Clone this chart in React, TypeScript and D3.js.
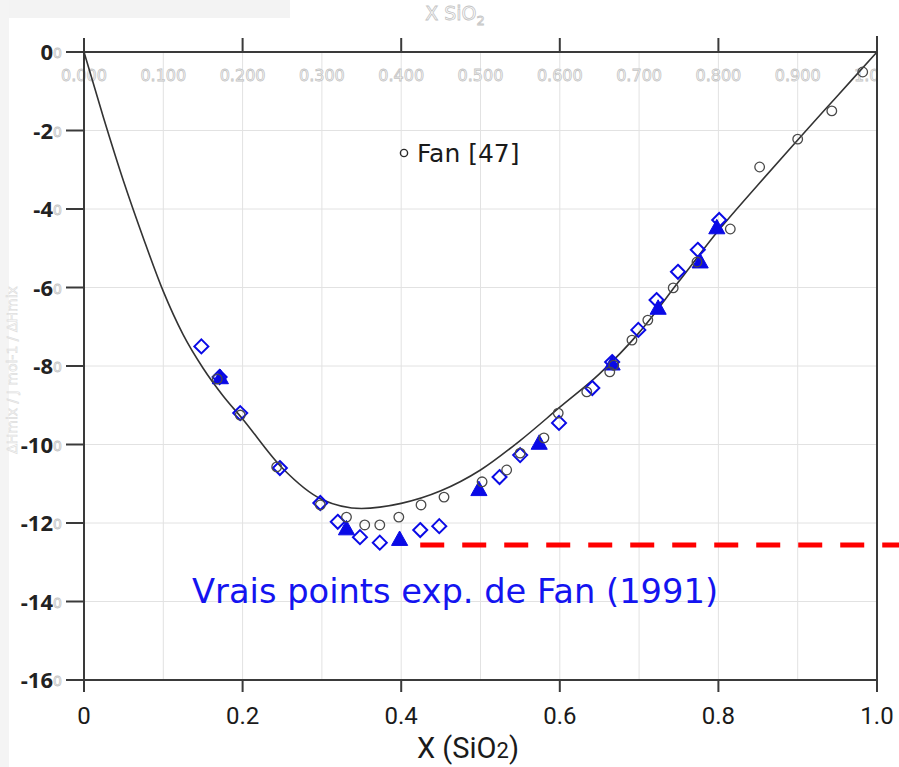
import React from "react";
import * as d3 from "d3";

// Mixing enthalpy of the SiO2 system versus silica mole fraction

// Model curve
const MODEL_X = [0, 0.025, 0.05, 0.075, 0.1, 0.125, 0.15, 0.175, 0.2, 0.25, 0.3, 0.35, 0.4, 0.45, 0.5, 0.55, 0.6, 0.65, 0.7, 0.75, 0.8, 0.85, 0.9, 0.95, 1.0];
const MODEL_Y = [0, -1.7, -3.3, -4.75, -6.1, -7.2, -8.05, -8.75, -9.35, -10.6, -11.4, -11.63, -11.5, -11.18, -10.65, -9.9, -9.05, -8.2, -7.15, -5.85, -4.55, -3.38, -2.24, -1.12, 0];

// Fan [47] (open circles)
const FAN_X = [0.168, 0.197, 0.243, 0.298, 0.331, 0.354, 0.373, 0.397, 0.425, 0.454, 0.502, 0.533, 0.55, 0.58, 0.598, 0.634, 0.663, 0.668, 0.691, 0.711, 0.743, 0.773, 0.815, 0.852, 0.9, 0.943, 0.982];
const FAN_Y = [-8.33, -9.25, -10.57, -11.54, -11.85, -12.05, -12.05, -11.85, -11.54, -11.34, -10.95, -10.65, -10.22, -9.83, -9.2, -8.66, -8.15, -7.98, -7.34, -6.83, -6.01, -5.35, -4.51, -2.93, -2.22, -1.5, -0.51];

// Fan (1991) experimental points (open diamonds)
const EXP_X = [0.148, 0.171, 0.197, 0.247, 0.298, 0.32, 0.348, 0.373, 0.424, 0.448, 0.524, 0.55, 0.599, 0.641, 0.666, 0.699, 0.722, 0.749, 0.774, 0.801];
const EXP_Y = [-7.5, -8.28, -9.2, -10.6, -11.49, -11.97, -12.36, -12.5, -12.18, -12.08, -10.83, -10.27, -9.45, -8.56, -7.9, -7.08, -6.32, -5.6, -5.04, -4.28];

// Filled triangles
const TRI_X = [0.172, 0.331, 0.398, 0.498, 0.574, 0.666, 0.724, 0.777, 0.798];
const TRI_Y = [-8.3, -12.15, -12.42, -11.15, -9.97, -7.95, -6.53, -5.35, -4.48];

// Reference level of the lowest experimental point
const MIN_LEVEL = -12.56;
const MIN_LEVEL_FROM = 0.424;

const X_TICKS = [0, 0.2, 0.4, 0.6, 0.8, 1.0];
const X_TICK_LABELS = ["0", "0.2", "0.4", "0.6", "0.8", "1.0"];
const X_GRID = [0.1, 0.2, 0.3, 0.4, 0.5, 0.6, 0.7, 0.8, 0.9];
const TOP_TICKS = [0, 0.2, 0.4, 0.6, 0.8];
const TOP_LABELS = ["0.000", "0.100", "0.200", "0.300", "0.400", "0.500", "0.600", "0.700", "0.800", "0.900", "1.000"];
const Y_TICKS = [0, -2, -4, -6, -8, -10, -12, -14, -16];
const Y_TICK_LABELS = ["0", "-2", "-4", "-6", "-8", "-10", "-12", "-14", "-16"];

const W = 899;
const H = 767;

export default function App() {
  const x = d3.scaleLinear().domain([0, 1]).range([84, 877]);
  const y = d3.scaleLinear().domain([0, -16]).range([52, 680]);

  const model = MODEL_X.map((v, i) => [v, MODEL_Y[i]] as [number, number]);
  const line = d3
    .line<[number, number]>()
    .x((d) => x(d[0]))
    .y((d) => y(d[1]))
    .curve(d3.curveMonotoneX);

  const diamond = (cx: number, cy: number, r: number) =>
    `M${cx},${cy - r}L${cx + r},${cy}L${cx},${cy + r}L${cx - r},${cy}Z`;
  const triangle = (cx: number, cy: number, r: number) =>
    `M${cx},${cy - r}L${cx + r * 0.95},${cy + r * 0.7}L${cx - r * 0.95},${cy + r * 0.7}Z`;

  const ghost = { fill: "#ffffff", stroke: "#c4c4c4", strokeWidth: 0.8 };
  const axisColor = "#3a3a3a";

  return (
    <svg
      width={W}
      height={H}
      viewBox={`0 0 ${W} ${H}`}
      style={{ position: "absolute", left: 0, top: 0, background: "#ffffff" }}
    >
      <defs>
        <clipPath id="topClip">
          <rect x={0} y={0} width={x(1)} height={H} />
        </clipPath>
      </defs>

      {/* faint page background bands */}
      <rect x={0} y={0} width={290} height={18} fill="#f3f3f3" />
      <rect x={0} y={0} width={9} height={H} fill="#f4f4f4" />

      {/* grid */}
      <g stroke="#e2e2e2" strokeWidth={1}>
        {X_GRID.map((t) => (
          <line key={`gx${t}`} x1={x(t)} x2={x(t)} y1={y(0)} y2={y(-16)} />
        ))}
        {Y_TICKS.slice(1, -1).map((t) => (
          <line key={`gy${t}`} x1={x(0)} x2={x(1)} y1={y(t)} y2={y(t)} />
        ))}
      </g>

      {/* faint secondary scale on top */}
      <g clipPath="url(#topClip)">
        {TOP_LABELS.map((s, i) => (
          <text
            key={s}
            x={x(i / 10)}
            y={81}
            textAnchor="middle"
            fontFamily="DejaVu Sans"
            fontSize={16}
            {...ghost}
          >
            {s}
          </text>
        ))}
      </g>
      <text x={455} y={20} textAnchor="middle" fontFamily="DejaVu Sans" fontSize={19} {...ghost}>
        X SiO
        <tspan fontSize={13} dy={5}>2</tspan>
      </text>
      <text
        transform="translate(17,370) rotate(-90)"
        textAnchor="middle"
        fontFamily="DejaVu Sans"
        fontSize={14}
        fill="none"
        stroke="#dedede"
        strokeWidth={0.7}
      >
        ΔHmix / J mol-1 / ΔHmix
      </text>

      {/* frame and axes */}
      <g stroke={axisColor} strokeWidth={2} fill="none">
        <line x1={66} x2={x(1)} y1={y(0)} y2={y(0)} />
        <line x1={66} x2={x(1)} y1={y(-16)} y2={y(-16)} />
        <line x1={x(0)} x2={x(0)} y1={38} y2={692} />
        <line x1={x(1)} x2={x(1)} y1={36} y2={692} />
        {TOP_TICKS.map((t) => (
          <line key={`tt${t}`} x1={x(t)} x2={x(t)} y1={38} y2={y(0)} />
        ))}
        {X_TICKS.map((t) => (
          <line key={`bt${t}`} x1={x(t)} x2={x(t)} y1={y(-16)} y2={692} />
        ))}
        {Y_TICKS.map((t) => (
          <line key={`yt${t}`} x1={66} x2={x(0)} y1={y(t)} y2={y(t)} />
        ))}
      </g>

      {/* y tick labels */}
      {Y_TICKS.map((t, i) => (
        <g key={`yl${t}`}>
          <text
            x={53}
            y={y(t) + 8}
            textAnchor="end"
            fontFamily="Open Sans"
            fontWeight={700}
            fontSize={22}
            fill="#222222"
          >
            {Y_TICK_LABELS[i]}
          </text>
          <text x={53} y={y(t) + 6} fontFamily="DejaVu Sans" fontSize={14} {...ghost}>
            0
          </text>
        </g>
      ))}

      {/* x tick labels */}
      {X_TICKS.map((t, i) => (
        <text
          key={`xl${t}`}
          x={x(t)}
          y={724}
          textAnchor="middle"
          fontFamily="Liberation Sans Narrow, Roboto"
          fontSize={24}
          fill="#1a1a1a"
        >
          {X_TICK_LABELS[i]}
        </text>
      ))}
      <text
        x={468}
        y={758}
        textAnchor="middle"
        fontFamily="Roboto"
        fontSize={29}
        fill="#1a1a1a"
      >
        X (SiO
        <tspan fontSize={22}>2</tspan>)
      </text>

      {/* model curve */}
      <path d={line(model) ?? ""} fill="none" stroke="#333333" strokeWidth={1.6} />

      {/* triangles */}
      {TRI_X.map((v, i) => (
        <path key={`tr${i}`} d={triangle(x(v), y(TRI_Y[i]), 8.5)} fill="#0a0ae6" stroke="#0a0ae6" strokeWidth={1} />
      ))}

      {/* diamonds */}
      {EXP_X.map((v, i) => (
        <path key={`dm${i}`} d={diamond(x(v), y(EXP_Y[i]), 7)} fill="none" stroke="#0a0ae6" strokeWidth={2} />
      ))}

      {/* circles */}
      {FAN_X.map((v, i) => (
        <circle key={`fc${i}`} cx={x(v)} cy={y(FAN_Y[i])} r={4.8} fill="none" stroke="#4a4a4a" strokeWidth={1.3} />
      ))}

      {/* legend */}
      <circle cx={404} cy={153} r={3.6} fill="none" stroke="#2a2a2a" strokeWidth={1.4} />
      <text x={417} y={162} fontFamily="DejaVu Sans" fontSize={25} fill="#1a1a1a">
        Fan [47]
      </text>

      {/* lowest experimental level */}
      <line
        x1={x(MIN_LEVEL_FROM)}
        x2={W}
        y1={y(MIN_LEVEL)}
        y2={y(MIN_LEVEL)}
        stroke="#ff0000"
        strokeWidth={5}
        strokeDasharray="24 18"
      />

      <text x={192} y={603} fontFamily="DejaVu Sans" fontSize={33.7} fill="#1414f0">
        Vrais points exp. de Fan (1991)
      </text>
    </svg>
  );
}
